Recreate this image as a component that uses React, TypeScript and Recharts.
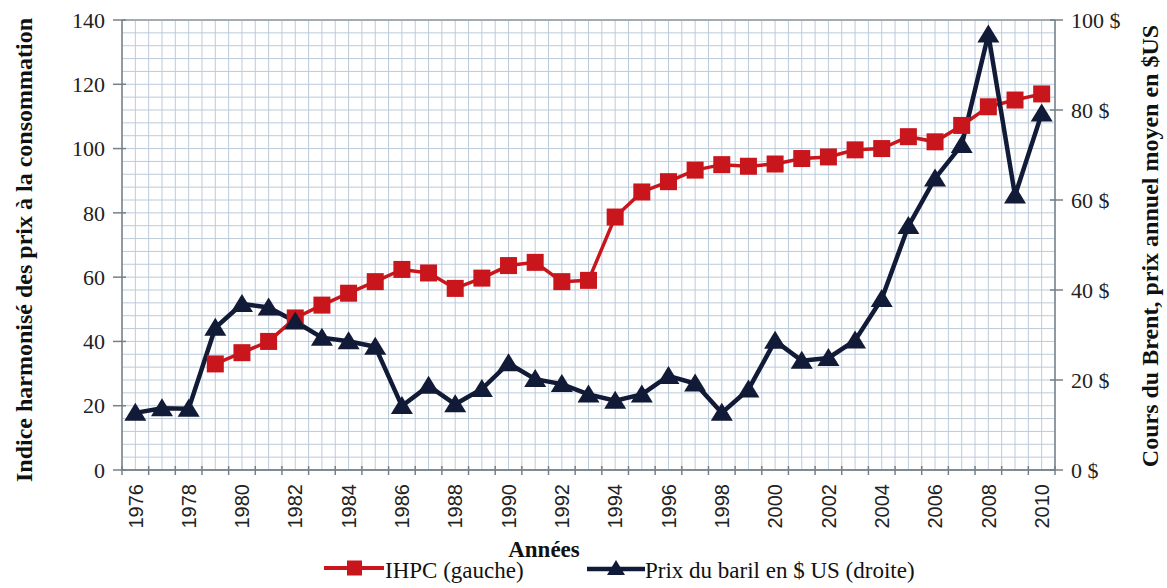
import { LineChart, Line, XAxis, YAxis, CartesianGrid, Legend } from "recharts";

const years = [
  1976, 1977, 1978, 1979, 1980, 1981, 1982, 1983, 1984, 1985, 1986, 1987,
  1988, 1989, 1990, 1991, 1992, 1993, 1994, 1995, 1996, 1997, 1998, 1999,
  2000, 2001, 2002, 2003, 2004, 2005, 2006, 2007, 2008, 2009, 2010,
];

// IHPC, left axis (no value before 1979)
const ihpc = [
  null, null, null, 33, 36.5, 40, 47.3, 51.3, 55, 58.6, 62.4, 61.3,
  56.5, 59.7, 63.6, 64.6, 58.6, 59, 78.7, 86.5, 89.7, 93.3, 95, 94.5,
  95.2, 96.9, 97.4, 99.6, 100, 103.7, 102.1, 107.2, 113, 115.1, 117,
];

// Brent, annual mean price in US$, right axis
const brent = [
  12.7, 13.7, 13.6, 31.6, 36.9, 36.1, 33, 29.4, 28.6, 27.4, 14.2, 18.7,
  14.6, 18, 23.7, 20.2, 19.1, 16.8, 15.4, 16.8, 20.9, 19.2, 12.7, 17.9,
  28.7, 24.3, 24.9, 28.8, 38, 54.2, 64.8, 72.2, 96.8, 61, 79.2,
];

const leftMajor = [0, 20, 40, 60, 80, 100, 120, 140];
const leftMinor = Array.from({ length: 36 }, (_, i) => i * 4);
const rightTicks = [0, 20, 40, 60, 80, 100];
const xTicks = Array.from({ length: 71 }, (_, i) => 1975.5 + i * 0.5);

const rows = years.map((year, i) => ({ year, ihpc: ihpc[i], brent: brent[i] }));

const RED = "#c9151c";
const NAVY = "#111a36";
const AXIS = "#75808a";
const SERIF = '"Liberation Serif", "Times New Roman", serif';
const SANS = '"Liberation Sans", Arial, sans-serif';

const XTick = ({ x, y, payload }: any) => {
  const v = payload.value;
  if (!Number.isInteger(v)) {
    return <line x1={x} x2={x} y1={y - 18} y2={y - 9} stroke={AXIS} strokeWidth={1.5} />;
  }
  if (v % 2 !== 0) return <g />;
  return (
    <text x={x} y={y} transform={`rotate(-90, ${x}, ${y})`} textAnchor="end" dy="0.36em"
      fontFamily={SANS} fontSize={20} fill="#222">
      {v}
    </text>
  );
};

const LeftTick = ({ x, y, payload }: any) => {
  if (payload.value % 20 !== 0) return <g />;
  return (
    <g>
      <line x1={x + 8} x2={x + 21} y1={y} y2={y} stroke={AXIS} strokeWidth={1.5} />
      <text x={x} y={y} textAnchor="end" dy="0.35em" fontFamily={SERIF} fontSize={22} fill="#222">
        {payload.value}
      </text>
    </g>
  );
};

const RightTick = ({ x, y, payload }: any) => (
  <g>
    <line x1={x - 21} x2={x - 8} y1={y} y2={y} stroke={AXIS} strokeWidth={1.5} />
    <text x={x} y={y} textAnchor="start" dy="0.35em" fontFamily={SERIF} fontSize={22} fill="#222">
      {payload.value} $
    </text>
  </g>
);

const SquareDot = ({ cx, cy }: any) => {
  if (cy == null || Number.isNaN(cy)) return <g />;
  return <rect x={cx - 8.5} y={cy - 8.5} width={17} height={17} fill={RED} />;
};

const TriangleDot = ({ cx, cy }: any) => {
  if (cy == null || Number.isNaN(cy)) return <g />;
  return <polygon points={`${cx},${cy - 10} ${cx - 11},${cy + 8} ${cx + 11},${cy + 8}`} fill={NAVY} />;
};

const LegendContent = () => (
  <div style={{ position: "relative", height: 30, fontFamily: SERIF, fontSize: 23, color: "#111" }}>
    <svg style={{ position: "absolute", left: 324, top: 2 }} width={60} height={20}>
      <line x1={0} x2={60} y1={10} y2={10} stroke={RED} strokeWidth={4} />
      <rect x={23} y={2.5} width={15} height={15} fill={RED} />
    </svg>
    <span style={{ position: "absolute", left: 385, top: 0, lineHeight: "30px", whiteSpace: "nowrap" }}>
      IHPC (gauche)
    </span>
    <svg style={{ position: "absolute", left: 587, top: 2 }} width={58} height={20}>
      <line x1={0} x2={58} y1={11} y2={11} stroke={NAVY} strokeWidth={4.5} />
      <polygon points="29,2 20,17 38,17" fill={NAVY} />
    </svg>
    <span style={{ position: "absolute", left: 645, top: 0, lineHeight: "30px", whiteSpace: "nowrap" }}>
      Prix du baril en $ US (droite)
    </span>
  </div>
);

export default function App() {
  return (
    <div style={{ position: "absolute", left: 0, top: 0, background: "#fff" }}>
      <LineChart width={1167} height={588} data={rows} margin={{ top: 20, right: 0, bottom: 0, left: 0 }}>
        <CartesianGrid xAxisId="x" yAxisId="left" stroke="#bccbda" strokeWidth={1} />
        <CartesianGrid xAxisId="x" yAxisId="major" vertical={false} stroke="#8e98a1" strokeWidth={1.6} />
        <XAxis
          xAxisId="x"
          dataKey="year"
          type="number"
          domain={[1975.5, 2010.5]}
          ticks={xTicks}
          interval={0}
          height={88}
          tickSize={0}
          tickMargin={14}
          tickLine={false}
          axisLine={{ stroke: AXIS, strokeWidth: 1.5 }}
          tick={<XTick />}
          label={{
            value: "Années",
            content: ({ viewBox }: any) => (
              <text x={viewBox.x + 422} y={viewBox.y + 87} textAnchor="middle" fontFamily={SERIF}
                fontSize={23} fontWeight="bold" fill="#111">
                Années
              </text>
            ),
          }}
        />
        <YAxis
          yAxisId="left"
          domain={[0, 140]}
          ticks={leftMinor}
          interval={0}
          width={122}
          tickSize={0}
          tickMargin={17}
          tickLine={false}
          axisLine={{ stroke: AXIS, strokeWidth: 1.5 }}
          tick={<LeftTick />}
          label={{
            value: "Indice harmonisé des prix à la consommation",
            content: ({ viewBox }: any) => {
              const cx = viewBox.x + 24;
              const cy = viewBox.y + viewBox.height / 2 + 5;
              return (
                <text x={cx} y={cy} transform={`rotate(-90, ${cx}, ${cy})`} textAnchor="middle"
                  dominantBaseline="central" fontFamily={SERIF} fontSize={24} fontWeight="bold" fill="#111">
                  Indice harmonisé des prix à la consommation
                </text>
              );
            },
          }}
        />
        <YAxis yAxisId="major" domain={[0, 140]} ticks={leftMajor} hide />
        <YAxis
          yAxisId="right"
          orientation="right"
          domain={[0, 100]}
          ticks={rightTicks}
          interval={0}
          width={112}
          tickSize={0}
          tickMargin={16}
          tickLine={false}
          axisLine={{ stroke: AXIS, strokeWidth: 1.5 }}
          tick={<RightTick />}
          label={{
            value: "Cours du Brent, prix annuel moyen en $US",
            content: ({ viewBox }: any) => {
              const cx = viewBox.x + 95;
              const cy = viewBox.y + viewBox.height / 2 + 1;
              return (
                <text x={cx} y={cy} transform={`rotate(-90, ${cx}, ${cy})`} textAnchor="middle"
                  dominantBaseline="central" fontFamily={SERIF} fontSize={24} fontWeight="bold" fill="#111">
                  Cours du Brent, prix annuel moyen en $US
                </text>
              );
            },
          }}
        />
        <Line
          xAxisId="x"
          yAxisId="left"
          dataKey="ihpc"
          name="IHPC (gauche)"
          stroke={RED}
          strokeWidth={3.5}
          dot={<SquareDot />}
          activeDot={false}
          isAnimationActive={false}
        />
        <Line
          xAxisId="x"
          yAxisId="right"
          dataKey="brent"
          name="Prix du baril en $ US (droite)"
          stroke={NAVY}
          strokeWidth={4.5}
          dot={<TriangleDot />}
          activeDot={false}
          isAnimationActive={false}
        />
        <Legend
          verticalAlign="bottom"
          height={30}
          content={<LegendContent />}
          wrapperStyle={{ left: 0, top: 556, bottom: "auto", width: 1167, height: 30 }}
        />
      </LineChart>
    </div>
  );
}
